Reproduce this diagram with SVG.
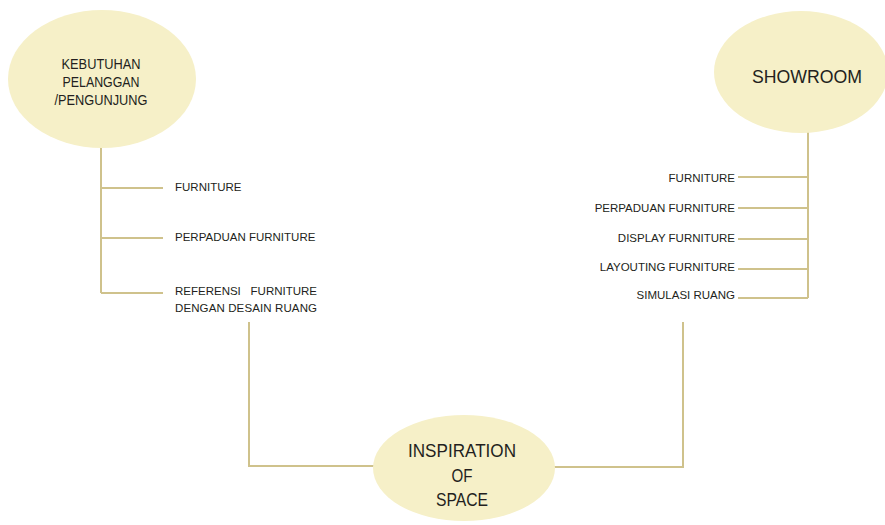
<svg xmlns="http://www.w3.org/2000/svg" width="885" height="525" viewBox="0 0 885 525">
<style>
.bg{fill:#ffffff}
.node{fill:#f6f0c8;stroke:none}
.ln{stroke:#cfc28c;stroke-width:2;fill:none}
.t{font-family:"Liberation Sans",Arial,sans-serif;fill:#231f20}
.big{font-size:18.5px;text-anchor:middle}
.mid{font-size:14.5px;text-anchor:middle}
.lab{font-size:11.5px}
.end{text-anchor:end}
</style>
<rect class="bg" x="0" y="0" width="885" height="525"/>
<g id="connectors">
<path class="ln" d="M101,147 V293"/>
<path class="ln" d="M101,188 H163 M101,238 H163 M101,293 H163"/>
<path class="ln" d="M808,132 V298"/>
<path class="ln" d="M738,177 H808 M738,208 H808 M738,239 H808 M738,269 H808 M738,298 H808"/>
<path class="ln" d="M249,322 V466 H375"/>
<path class="ln" d="M683,322 V467 H553"/>
</g>
<g id="node-kebutuhan">
<ellipse class="node" cx="102" cy="79" rx="94" ry="69"/>
<text class="t mid" x="101" y="69" textLength="79" lengthAdjust="spacingAndGlyphs">KEBUTUHAN</text>
<text class="t mid" x="101" y="87" textLength="77" lengthAdjust="spacingAndGlyphs">PELANGGAN</text>
<text class="t mid" x="101" y="105" textLength="93" lengthAdjust="spacingAndGlyphs">/PENGUNJUNG</text>
</g>
<g id="node-showroom">
<ellipse class="node" cx="801" cy="72" rx="87" ry="61"/>
<text class="t big" x="807" y="83" textLength="110" lengthAdjust="spacingAndGlyphs">SHOWROOM</text>
</g>
<g id="node-inspiration">
<ellipse class="node" cx="464" cy="468" rx="91" ry="53"/>
<text class="t big" x="462" y="457" textLength="108" lengthAdjust="spacingAndGlyphs">INSPIRATION</text>
<text class="t big" x="462" y="482" textLength="21" lengthAdjust="spacingAndGlyphs">OF</text>
<text class="t big" x="462" y="506" textLength="52" lengthAdjust="spacingAndGlyphs">SPACE</text>
</g>
<g id="left-items">
<text class="t lab" x="175" y="191">FURNITURE</text>
<text class="t lab" x="175" y="241">PERPADUAN FURNITURE</text>
<text class="t lab"><tspan x="175" y="295">REFERENSI</tspan><tspan x="317" y="295" text-anchor="end">FURNITURE</tspan></text>
<text class="t lab" x="175" y="312" textLength="142">DENGAN DESAIN RUANG</text>
</g>
<g id="right-items">
<text class="t lab end" x="735" y="182">FURNITURE</text>
<text class="t lab end" x="735" y="212">PERPADUAN FURNITURE</text>
<text class="t lab end" x="735" y="242">DISPLAY FURNITURE</text>
<text class="t lab end" x="735" y="271">LAYOUTING FURNITURE</text>
<text class="t lab end" x="735" y="299">SIMULASI RUANG</text>
</g>
</svg>
